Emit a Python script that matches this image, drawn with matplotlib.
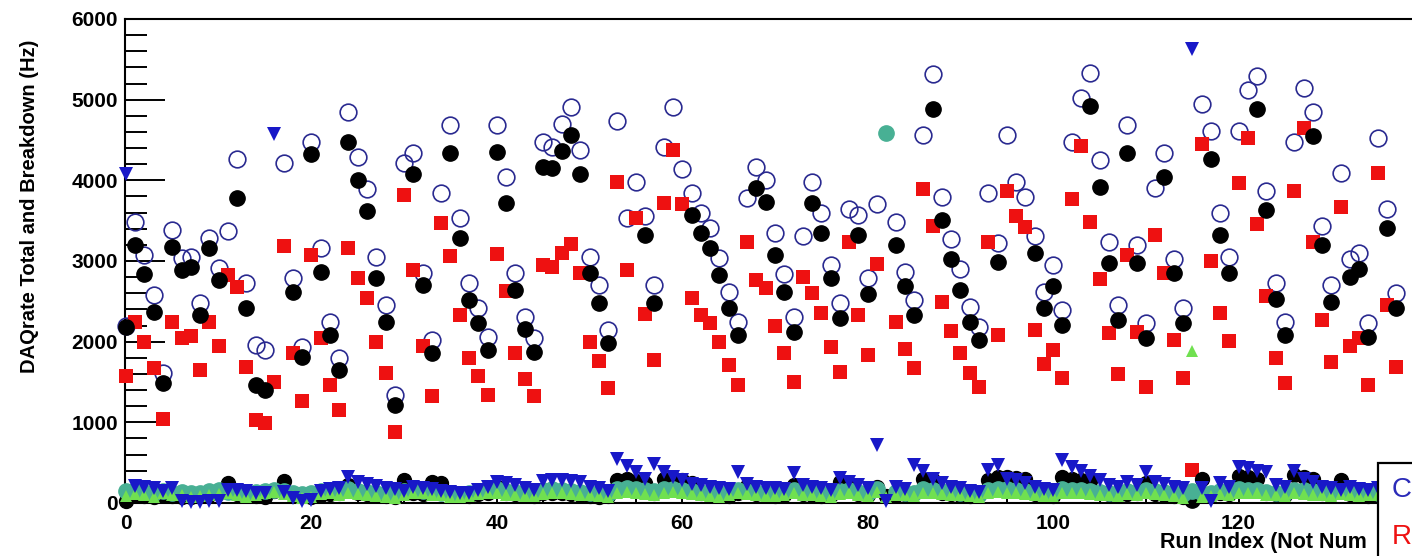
import matplotlib
matplotlib.use("Agg")
import matplotlib.pyplot as plt
import numpy as np
from matplotlib.patches import Rectangle
from matplotlib.ticker import MultipleLocator

nan = np.nan

# total rate (open circles), one value per run index
total_rate = [
    2200, 3480, 3075, 2580, 1612, 3385, 3038, 3050, 2480, 3286,
    2914, 3373, 4266, 2728, 1959, 1897, nan, 4216, 2790, 1934,
    4476, 3162, 2244, 1798, 4848, 4290, 3894, 3050, 2455, 1339,
    4216, 4340, 2852, 2021, 3844, 4687, 3534, 2728, 2418, 2058,
    4687, 4042, 2852, 2306, 2046, 4476, 4414, 4700, 4910, 4377,
    3050, 2703, 2145, 4737, 3534, 3980, 3560, 2703, 4414, 4910,
    4142, 3844, 3596, 3410, 3038, 2616, 2244, 3782, 4166, 4005,
    3348, 2840, 2306, 3311, 3980, 3596, 2951, 2479, 3646, 3571,
    2790, 3708, nan, 3485, 2864, 2517, 4563, 5320, 3794, 3274,
    2902, 2430, 2182, 3844, 3224, 4563, 3980, 3794, 3311, 2616,
    2951, 2393, 4476, 5022, 5330, 4253, 3236, 2455, 4687, 3199,
    2232, 3906, 4340, 3026, 2418, nan, 4948, 4613, 3596, 3050,
    4613, 5121, 5295, 3869, 2728, 2244, 4476, 5146, 4848, 3435,
    2703, 4092, 3026, 3100, 2232, 4526, 3640, 2600, nan,
]

# black filled circles
black_rate = [
    2182, 3199, 2840, 2368, 1488, 3174, 2889, 2926, 2331, 3162,
    2765, nan, 3782, 2418, 1463, 1401, nan, nan, 2616, 1810,
    4328, 2864, 2083, 1649, 4476, 4005, 3621, 2790, 2244, 1215,
    nan, 4080, 2703, 1860, nan, 4340, 3286, 2517, 2232, 1897,
    4352, 3720, 2641, 2158, 1872, 4166, 4154, 4365, 4563, 4080,
    2852, 2480, 1984, nan, nan, nan, 3323, 2480, nan, nan,
    nan, 3571, 3348, 3162, 2827, 2418, 2083, nan, 3906, 3732,
    3075, 2616, 2120, nan, 3720, 3348, 2790, 2294, nan, 3323,
    2592, nan, nan, 3199, 2691, 2331, nan, 4886, 3509, 3026,
    2641, 2244, 2021, nan, 2988, nan, nan, nan, 3100, 2418,
    2691, 2207, nan, nan, 4923, 3918, 2976, 2269, 4340, 2976,
    2046, nan, 4042, 2852, 2232, 40, nan, 4266, 3323, 2852,
    nan, nan, 4886, 3633, 2530, 2083, nan, nan, 4551, 3199,
    2492, nan, 2802, 2902, 2058, nan, 3410, 2418, nan,
]

# red squares
red_rate = [
    1575, 2244, 1996, 1674, 1042, 2244, 2046, 2071, 1649, 2244,
    1947, 2827, 2678, 1686, 1029, 992, 1500, 3187, 1860, 1265,
    3075, 2046, 1463, 1153, 3162, 2790, 2542, 1996, 1612, 880,
    3819, 2889, 1947, 1327, 3472, 3063, 2331, 1798, 1575, 1339,
    3088, 2629, 1860, 1538, 1327, 2951, 2926, 3100, 3212, 2852,
    1996, 1761, 1426, 3980, 2889, 3534, 2344, 1773, 3720, 4377,
    3708, 2542, 2331, 2232, 1996, 1711, 1463, 3236, 2765, 2666,
    2195, 1860, 1500, 2802, 2604, 2356, 1934, 1624, 3236, 2331,
    1835, 2964, nan, 2244, 1910, 1674, 3894, 3435, 2493, 2133,
    1860, 1612, 1438, 3236, 2083, 3869, 3559, 3422, 2145, 1724,
    1897, 1550, 3770, 4427, 3485, 2778, 2108, 1600, 3075, 2120,
    1438, 3323, 2852, 2021, 1550, 410, 4450, 3001, 2356, 2009,
    3968, 4526, 3460, 2564, 1798, 1488, 3869, 4650, 3236, 2269,
    1748, 3670, 1947, 2046, 1463, 4092, 2455, 1686, nan,
]

# blue down triangles
blue_rate = [
    4080, 210, 200, 190, 150, 180, 20, 15, 15, 20,
    25, 160, 160, 150, 130, 120, 4580, 140, 60, 30,
    40, 150, 170, 180, 320, 260, 230, 210, 190, 170,
    150, 200, 180, 170, 150, 140, 130, 120, 160, 200,
    260, 250, 220, 180, 160, 270, 280, 290, 270, 260,
    200, 180, 150, 540, 460, 390, 300, 480, 380, 320,
    280, 240, 220, 200, 180, 170, 380, 240, 200, 190,
    180, 170, 370, 220, 200, 180, 160, 310, 260, 220,
    180, 720, 30, 200, 170, 470, 400, 300, 250, 200,
    180, 150, 140, 410, 470, 300, 280, 250, 200, 170,
    160, 530, 450, 400, 330, 280, 220, 200, 260, 220,
    390, 260, 240, 200, 180, 5630, 180, 20, 250, 200,
    450, 440, 400, 380, 220, 200, 400, 300, 260, 200,
    180, 160, 200, 170, 160, 180, 150, 160, 150,
]

# green up triangles
green_rate = [
    90, 110, 100, 80, 120, 95, 105, 70, 85, 100,
    110, 130, 95, 80, 100, 120, 140, 110, 90, 60,
    80, 110, 120, 95, 130, 115, 100, 90, 80, 60,
    100, 130, 120, 105, 95, 80, 70, 90, 110, 120,
    130, 100, 95, 85, 90, 110, 130, 125, 115, 100,
    95, 85, 80, 120, 140, 130, 115, 100, 120, 135,
    125, 110, 95, 90, 80, 100, 120, 110, 95, 85,
    90, 100, 125, 105, 95, 90, 80, 110, 120, 100,
    90, 140, 70, 100, 95, 90, 130, 125, 115, 100,
    95, 85, 80, 120, 135, 130, 120, 110, 95, 90,
    85, 130, 125, 120, 110, 100, 95, 90, 110, 100,
    120, 110, 100, 90, 60, 1880, 80, 90, 110, 105,
    130, 125, 120, 100, 95, 90, 120, 115, 105, 95,
    90, 110, 95, 90, 100, 95, 90, 85, 90,
]

# teal circles
teal_rate = [
    150, 160, 140, 130, 150, 120, 140, 130, 120, 150,
    160, 140, 150, 130, 140, 150, 160, 150, 120, 110,
    130, 150, 160, 140, 170, 150, 140, 130, 120, 110,
    150, 160, 150, 140, 130, 120, 110, 130, 150, 160,
    170, 150, 140, 130, 120, 160, 170, 165, 150, 140,
    130, 120, 110, 170, 180, 170, 160, 150, 170, 175,
    165, 150, 140, 130, 120, 140, 160, 150, 140, 130,
    120, 140, 165, 150, 140, 130, 120, 150, 160, 140,
    130, 170, 4590, 140, 130, 120, 170, 165, 150, 140,
    130, 120, 110, 160, 175, 170, 160, 150, 140, 130,
    120, 170, 165, 160, 150, 140, 130, 120, 150, 140,
    160, 150, 140, 130, 110, 150, 130, 120, 150, 140,
    170, 165, 160, 140, 130, 120, 160, 155, 150, 140,
    130, 150, 140, 130, 140, 130, 120, 130, 120,
]

# black circles in the low band
black_low = [
    30, 100, 90, 80, 100, 90, 80, 70, 90, 100,
    120, 250, 110, 100, 90, 80, 150, 270, 100, 90,
    80, 100, 110, 120, 220, 130, 110, 100, 90, 80,
    280, 120, 110, 260, 250, 110, 100, 90, 110, 120,
    200, 130, 110, 100, 90, 120, 130, 120, 110, 100,
    90, 80, 90, 280, 300, 270, 250, 130, 300, 310,
    290, 250, 120, 110, 100, 90, 120, 210, 110, 100,
    90, 100, 220, 110, 100, 90, 100, 260, 230, 110,
    100, 200, 90, 100, 110, 120, 300, 290, 120, 110,
    100, 90, 100, 280, 320, 320, 310, 300, 110, 100,
    90, 320, 300, 290, 270, 120, 110, 100, 110, 120,
    250, 110, 100, 90, 80, 100, 300, 110, 120, 110,
    330, 320, 300, 120, 110, 100, 350, 320, 300, 120,
    110, 280, 110, 100, 90, 100, 90, 80, 90,
]

plt.rcParams["font.family"] = ["Liberation Sans", "DejaVu Sans"]

W, H = 1412, 556
fig = plt.figure(figsize=(W / 100, H / 100), dpi=100)
ax = fig.add_axes([125 / W, 53 / H, (W - 125) / W, 484 / H])


def draw(values, **kw):
    x = np.arange(len(values))
    ax.plot(x, values, linestyle="none", clip_on=False, **kw)


draw(total_rate, marker="o", markersize=12, markerfacecolor="none",
     markeredgecolor="#2a2a90", markeredgewidth=1.2, zorder=3)
draw(red_rate, marker="s", markersize=10.5, color="#ee1111",
     markeredgewidth=0, zorder=4)
draw(black_rate, marker="o", markersize=11, color="black", zorder=5)
draw(black_low, marker="o", markersize=10, color="black", zorder=5)
draw(teal_rate, marker="o", markersize=11, color="#48b094", zorder=6)
draw(green_rate, marker="^", markersize=9, color="#70e050",
     markeredgewidth=0, zorder=7)
draw(blue_rate, marker="v", markersize=10.5, color="#1818c8",
     markeredgewidth=0, zorder=8)

ax.set_xlim(-0.1, 138.7)
ax.set_ylim(0, 6000)

ax.spines["right"].set_visible(False)
for side in ["left", "top", "bottom"]:
    ax.spines[side].set_linewidth(1.5)

ax.yaxis.set_major_locator(MultipleLocator(1000))
ax.yaxis.set_minor_locator(MultipleLocator(200))
ax.xaxis.set_major_locator(MultipleLocator(20))
ax.xaxis.set_minor_locator(MultipleLocator(5))
ax.tick_params(axis="y", which="major", direction="in", length=29, width=1.4, pad=5)
ax.tick_params(axis="y", which="minor", direction="in", length=16, width=1.4)
ax.tick_params(axis="x", which="major", direction="in", length=10, width=1.4, pad=8)
ax.tick_params(axis="x", which="minor", direction="in", length=5, width=1.4)
for lab in ax.get_xticklabels() + ax.get_yticklabels():
    lab.set_fontweight("bold")
    lab.set_fontsize(15)

fig.text(30 / W, (H - 40) / H, "DAQrate Total and Breakdown (Hz)", rotation=90,
         ha="center", va="top", fontsize=14.5, fontweight="bold")
# the axis title is cut off by the legend box in the original
fig.text(1160 / W, (H - 548) / H, "Run Index (Not Num", ha="left",
         va="baseline", fontsize=15.5, fontweight="bold", zorder=3)

# legend box, cut by the figure edge
box = Rectangle((1378 / W, -0.05), 0.1, (H - 463) / H + 0.05,
                transform=fig.transFigure, facecolor="white",
                edgecolor="black", linewidth=1.6, zorder=5)
fig.patches.append(box)
fig.text(1392 / W, (H - 490) / H, "C", color="#2b2bb8", fontsize=20,
         ha="left", va="center", zorder=6)
fig.text(1392 / W, (H - 537) / H, "R", color="#ee1111", fontsize=20,
         ha="left", va="center", zorder=6)

fig.savefig("out.png", dpi=100)
